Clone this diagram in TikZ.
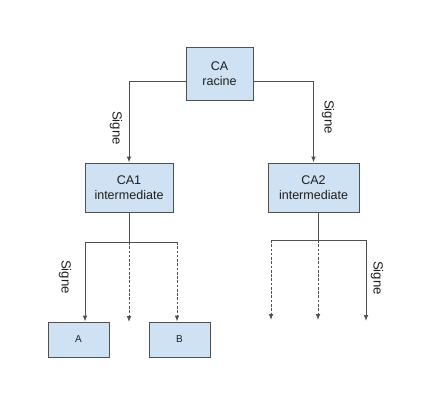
\documentclass[tikz,border=0pt]{standalone}
\usepackage{fontspec}
\setmainfont{Liberation Sans}
\usetikzlibrary{arrows.meta,positioning}
\definecolor{boxblue}{HTML}{CFE2F3}
\definecolor{linegray}{HTML}{505050}
\definecolor{textgray}{HTML}{1E1E1E}

\begin{document}
\begin{tikzpicture}[
  x=0.75pt, y=-0.75pt,
  cabox/.style={draw=linegray, line width=0.75pt, fill=boxblue, align=center,
    text=textgray, inner sep=1pt, font=\fontsize{9.4}{11}\selectfont},
  leafbox/.style={cabox, minimum width=45.75pt, minimum height=26.25pt,
    font=\fontsize{7.5}{9}\selectfont},
  signlabel/.style={rotate=-90, text=textgray, font=\fontsize{9.9}{11}\selectfont},
  link/.style={draw=linegray, line width=0.75pt},
  arrow/.style={link, -{Latex[length=4.5pt,width=3.6pt]}},
  maybe/.style={arrow, dash pattern=on 2pt off 1.2pt}
]
\useasboundingbox (0,0) rectangle (433,414);

% boxes
\node[cabox, minimum width=50.25pt, minimum height=39.75pt] (root) at (219.5,73.5) {CA\\racine};
\node[cabox, minimum width=66pt, minimum height=36.75pt] (ca1) at (129,187.5) {CA1\\intermediate};
\node[cabox, minimum width=68.25pt, minimum height=36.75pt] (ca2) at (313.5,187.5) {CA2\\intermediate};
\node[leafbox] (leafa) at (78.5,339.5) {A};
\node[leafbox] (leafb) at (179.5,339.5) {B};

% branch points
\coordinate (rootl) at (186,81);
\coordinate (rootr) at (253,81);
\coordinate (bar1) at (129,242);
\coordinate (bar1l) at (85,242);
\coordinate (bar1r) at (177,242);
\coordinate (bar2) at (318,240);
\coordinate (bar2l) at (271,240);
\coordinate (bar2r) at (366,240);
\coordinate (end1) at (129,322);
\coordinate (end2l) at (271,320);
\coordinate (end2m) at (318,320);
\coordinate (end2r) at (366,321);

% root to level one
\draw[arrow] (rootl) -| (ca1.north);
\draw[arrow] (rootr) -| (ca2.north);
\node[signlabel] (sign1) at (116,128) {Signe};
\node[signlabel] (sign2) at (328,117) {Signe};

% under CA1
\draw[link] (ca1.south) -- (bar1);
\draw[link] (bar1l) -- (bar1r);
\draw[arrow] (bar1l) -- (bar1l |- leafa.north);
\draw[maybe] (bar1) -- (end1);
\draw[maybe] (bar1r) -- (bar1r |- leafb.north);
\node[signlabel] (sign3) at (65,277) {Signe};

% under CA2
\draw[link] (ca2.south -| bar2) -- (bar2);
\draw[link] (bar2l) -- (bar2r);
\draw[maybe] (bar2l) -- (end2l);
\draw[maybe] (bar2) -- (end2m);
\draw[arrow] (bar2r) -- (end2r);
\node[signlabel] (sign4) at (377,278) {Signe};
\end{tikzpicture}
\end{document}
